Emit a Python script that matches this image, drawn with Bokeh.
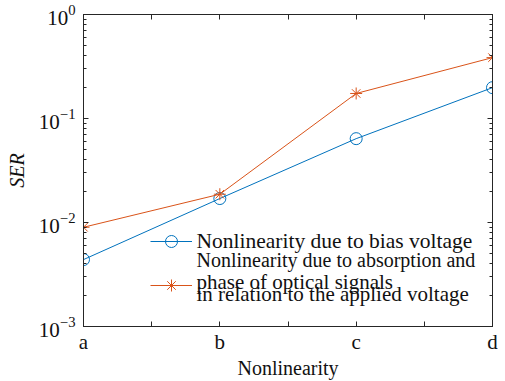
from bokeh.plotting import figure
from bokeh.models import (LogAxis, LinearAxis, FixedTicker, LogTicker, Range1d,
                          Legend, LegendItem, Label)
from bokeh.embed import file_html
from bokeh.resources import INLINE

categories = ["a", "b", "c", "d"]
ser_bias = [0.0044, 0.0170, 0.064, 0.198]
ser_absorption = [0.0090, 0.0187, 0.174, 0.385]
label_bias = ["Nonlinearity due to bias voltage"]
label_abs = ["Nonlinearity due to absorption and",
             "phase of optical signals",
             "in relation to the applied voltage"]

xpos = list(range(1, len(categories) + 1))
FONT = "Liberation Serif"
BLUE = "#0072BD"
RED = "#D95319"
AX = "#262626"
TXT = "#111111"

p = figure(width=505, height=381, output_backend="svg", toolbar_location=None,
           y_axis_type="log", x_range=Range1d(1, 4), y_range=Range1d(1e-3, 1),
           min_border_left=83, min_border_right=13, min_border_top=14,
           min_border_bottom=49)
p.grid.visible = False
p.outline_line_color = AX
p.outline_line_width = 1
p.background_fill_color = "white"
p.border_fill_color = "white"

xt = [1, 1.5, 2, 2.5, 3, 3.5, 4]
overrides = {1: "a", 1.5: "", 2: "b", 2.5: "", 3: "c", 3.5: "", 4: "d"}

def style(ax, labels=True):
    ax.axis_line_color = AX
    ax.major_tick_line_color = AX
    ax.minor_tick_line_color = AX
    ax.major_tick_in = 5
    ax.major_tick_out = 0
    ax.minor_tick_in = 3
    ax.minor_tick_out = 0
    ax.major_label_text_font = FONT
    ax.major_label_text_color = TXT
    ax.major_label_text_font_size = "21px" if labels else "0px"
    ax.axis_label_text_font = FONT
    ax.axis_label_text_font_size = "20px"
    ax.axis_label_text_font_style = "normal"
    ax.axis_label_text_color = TXT

xa = p.xaxis[0]
xa.ticker = FixedTicker(ticks=xt)
xa.major_label_overrides = overrides
xa.axis_label = "Nonlinearity"
style(xa)
xa.major_label_standoff = 3
xa.axis_label_standoff = 0

ya = p.yaxis[0]
ya.ticker = LogTicker(num_minor_ticks=10)
ya.axis_label = "SER"
style(ya)
ya.axis_label_text_font_style = "italic"
ya.major_label_standoff = 8
ya.axis_label_standoff = 8

top = LinearAxis(ticker=FixedTicker(ticks=xt), major_label_standoff=0)
style(top, labels=False)
top.major_label_overrides = {k: "" for k in overrides}
p.add_layout(top, "above")

right = LogAxis(ticker=LogTicker(num_minor_ticks=10), major_label_standoff=0)
style(right, labels=False)
right.major_label_overrides = {1e-3: "", 1e-2: "", 1e-1: "", 1: ""}
p.add_layout(right, "right")

l1 = p.line(xpos, ser_bias, line_color=BLUE, line_width=1)
m1 = p.scatter(xpos, ser_bias, marker="circle", size=12, fill_color=None,
               line_color=BLUE, line_width=1)
l2 = p.line(xpos, ser_absorption, line_color=RED, line_width=1)
m2 = p.scatter(xpos, ser_absorption, marker="asterisk", size=12,
               line_color=RED, line_width=1)

# legend samples (glyphs only); the texts are set as labels beside them
legend = Legend(items=[LegendItem(label=" ", renderers=[l1, m1]),
                       LegendItem(label=" ", renderers=[l2, m2])],
                location=(67, 26), label_text_font_size="1px",
                label_width=0, label_height=0, label_standoff=0,
                glyph_width=42, glyph_height=30,
                spacing=14, padding=0, margin=0,
                border_line_color=None, background_fill_alpha=0)
p.add_layout(legend, "center")

lines = label_bias + label_abs
baselines = [86, 67, 45, 33]
sizes = ["21.5px", "20px", "21px", "21px"]
for t, yb, fs in zip(lines, baselines, sizes):
    p.add_layout(Label(x=113, y=yb, x_units="screen", y_units="screen",
                       text=t, text_font=FONT, text_font_size=fs,
                       text_color=TXT, text_baseline="alphabetic",
                       text_align="left"))

open("out.html", "w").write(file_html(p, INLINE))
